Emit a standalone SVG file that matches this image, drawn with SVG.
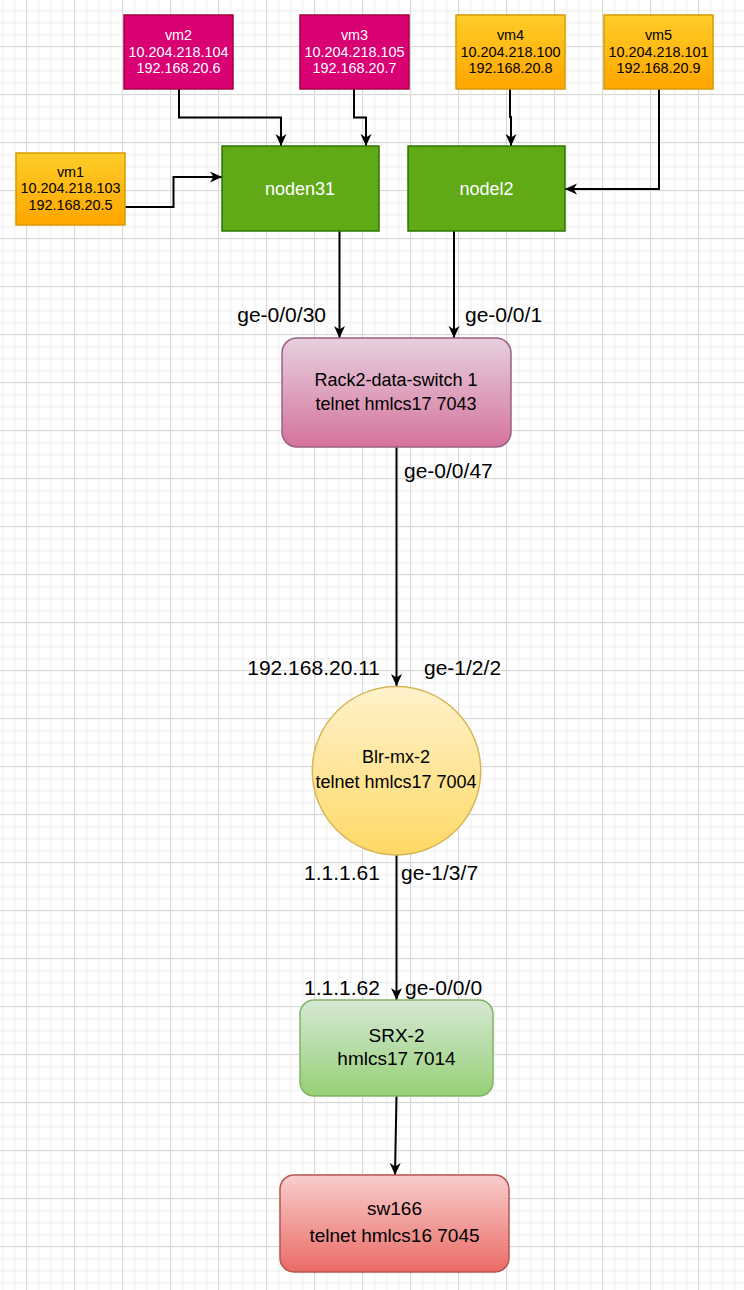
<svg xmlns="http://www.w3.org/2000/svg" width="744" height="1290" viewBox="0 0 744 1290">
<style>
.t{font-family:"Liberation Sans",Arial,Helvetica,sans-serif;text-anchor:middle;}
.vm{font-size:14.4px;}
.w{fill:#ffffff;}
.k{fill:#000000;}
.nd{font-size:18px;}
.lbl{font-family:"Liberation Sans",Arial,Helvetica,sans-serif;font-size:21px;fill:#000000;}
.e{text-anchor:end;}
.s{text-anchor:start;}
.edge{fill:none;stroke:#000000;stroke-width:2;marker-end:url(#arr);}
</style>
<defs>
<pattern id="gMinor" patternUnits="userSpaceOnUse" x="2" y="10" width="12" height="12">
<rect x="0" y="0" width="1.5" height="12" fill="#f3f3f3"/>
<rect x="0" y="0" width="12" height="1.5" fill="#f3f3f3"/>
</pattern>
<pattern id="gMajor" patternUnits="userSpaceOnUse" x="26" y="46" width="48" height="48">
<rect x="0" y="0" width="1" height="48" fill="#d8d8d8"/>
<rect x="0" y="0" width="48" height="1" fill="#d8d8d8"/>
</pattern>
<linearGradient id="gYellow" x1="0" y1="0" x2="0" y2="1"><stop offset="0" stop-color="#ffcd28"/><stop offset="1" stop-color="#ffa500"/></linearGradient>
<linearGradient id="gPink" x1="0" y1="0" x2="0" y2="1"><stop offset="0" stop-color="#e6d0de"/><stop offset="1" stop-color="#d5739d"/></linearGradient>
<linearGradient id="gCircle" x1="0" y1="0" x2="0" y2="1"><stop offset="0" stop-color="#fff2cc"/><stop offset="1" stop-color="#ffd966"/></linearGradient>
<linearGradient id="gGreen" x1="0" y1="0" x2="0" y2="1"><stop offset="0" stop-color="#d5e8d4"/><stop offset="1" stop-color="#97d077"/></linearGradient>
<linearGradient id="gRed" x1="0" y1="0" x2="0" y2="1"><stop offset="0" stop-color="#f8cecc"/><stop offset="1" stop-color="#ea6b66"/></linearGradient>
<marker id="arr" viewBox="0 0 12 12" refX="12" refY="6" markerWidth="12" markerHeight="12" markerUnits="userSpaceOnUse" orient="auto">
<path d="M0,0.5 L12,6 L0,11.5 L3.5,6 Z" fill="#000000"/>
</marker>
</defs>
<rect x="0" y="0" width="744" height="1290" fill="#ffffff"/>
<rect x="0" y="0" width="744" height="1290" fill="url(#gMinor)"/>
<rect x="0" y="0" width="744" height="1290" fill="url(#gMajor)"/>

<g id="connectors">
<path class="edge" d="M179,89 V117.5 H281 V146"/>
<path class="edge" d="M354,89 V117.5 H366 V146"/>
<path class="edge" d="M125,207 H173.5 V177 H222"/>
<path class="edge" d="M510,89 V117 H511 V146"/>
<path class="edge" d="M659,89 V189 H565"/>
<path class="edge" d="M339.5,231 V338"/>
<path class="edge" d="M454,231 V338"/>
<path class="edge" d="M396.5,447 V686"/>
<path class="edge" d="M396.5,855 V1000"/>
<path class="edge" d="M396.5,1096 L395,1175"/>
</g>

<g id="vm2">
<rect x="124" y="15" width="109" height="74" fill="#d80073" stroke="#a50040" stroke-width="1.5"/>
<text class="t vm w" x="178.5" y="40">vm2</text>
<text class="t vm w" x="178.5" y="56.7">10.204.218.104</text>
<text class="t vm w" x="178.5" y="73.3">192.168.20.6</text>
</g>
<g id="vm3">
<rect x="300" y="15" width="109" height="74" fill="#d80073" stroke="#a50040" stroke-width="1.5"/>
<text class="t vm w" x="354.5" y="40">vm3</text>
<text class="t vm w" x="354.5" y="56.7">10.204.218.105</text>
<text class="t vm w" x="354.5" y="73.3">192.168.20.7</text>
</g>
<g id="vm4">
<rect x="456" y="15" width="109" height="74" fill="url(#gYellow)" stroke="#d79b00" stroke-width="1.5"/>
<text class="t vm k" x="510.5" y="40">vm4</text>
<text class="t vm k" x="510.5" y="56.7">10.204.218.100</text>
<text class="t vm k" x="510.5" y="73.3">192.168.20.8</text>
</g>
<g id="vm5">
<rect x="604" y="15" width="109" height="74" fill="url(#gYellow)" stroke="#d79b00" stroke-width="1.5"/>
<text class="t vm k" x="658.5" y="40">vm5</text>
<text class="t vm k" x="658.5" y="56.7">10.204.218.101</text>
<text class="t vm k" x="658.5" y="73.3">192.168.20.9</text>
</g>
<g id="vm1">
<rect x="16" y="153" width="109" height="72" fill="url(#gYellow)" stroke="#d79b00" stroke-width="1.5"/>
<text class="t vm k" x="70.5" y="176.7">vm1</text>
<text class="t vm k" x="70.5" y="193.3">10.204.218.103</text>
<text class="t vm k" x="70.5" y="210">192.168.20.5</text>
</g>
<g id="noden31">
<rect x="222" y="146" width="157" height="85" fill="#60a917" stroke="#2d7600" stroke-width="1.5"/>
<text class="t nd w" x="300" y="195">noden31</text>
</g>
<g id="nodel2">
<rect x="408" y="146" width="157" height="85" fill="#60a917" stroke="#2d7600" stroke-width="1.5"/>
<text class="t nd w" x="486.5" y="195">nodel2</text>
</g>
<g id="switch">
<rect x="282" y="338" width="229" height="109" rx="15" ry="15" fill="url(#gPink)" stroke="#996185" stroke-width="1.5"/>
<text class="t nd k" x="396" y="386">Rack2-data-switch 1</text>
<text class="t nd k" x="396" y="410">telnet hmlcs17 7043</text>
</g>
<g id="blr-mx-2">
<circle cx="396.5" cy="770.7" r="84.2" fill="url(#gCircle)" stroke="#d6b656" stroke-width="1.5"/>
<text class="t nd k" x="396" y="763.3">Blr-mx-2</text>
<text class="t nd k" x="396" y="788.3">telnet hmlcs17 7004</text>
</g>
<g id="srx-2">
<rect x="300" y="1000" width="193" height="96" rx="14" ry="14" fill="url(#gGreen)" stroke="#82b366" stroke-width="1.5"/>
<text class="t k" style="font-size:19px" x="396.5" y="1041.7">SRX-2</text>
<text class="t k" style="font-size:19px" x="396.5" y="1064.5">hmlcs17 7014</text>
</g>
<g id="sw166">
<rect x="280" y="1175" width="229" height="97" rx="14" ry="14" fill="url(#gRed)" stroke="#b85450" stroke-width="1.5"/>
<text class="t k" style="font-size:19px" x="394.5" y="1215">sw166</text>
<text class="t k" style="font-size:19px" x="394.5" y="1241.7">telnet hmlcs16 7045</text>
</g>

<g id="labels">
<text class="lbl e" x="326" y="322">ge-0/0/30</text>
<text class="lbl s" x="465" y="322">ge-0/0/1</text>
<text class="lbl s" x="404" y="478">ge-0/0/47</text>
<text class="lbl e" x="380" y="675">192.168.20.11</text>
<text class="lbl s" x="424" y="675">ge-1/2/2</text>
<text class="lbl s" x="304" y="880">1.1.1.61</text>
<text class="lbl s" x="401" y="880">ge-1/3/7</text>
<text class="lbl s" x="304" y="995">1.1.1.62</text>
<text class="lbl s" x="405" y="995">ge-0/0/0</text>
</g>
</svg>
